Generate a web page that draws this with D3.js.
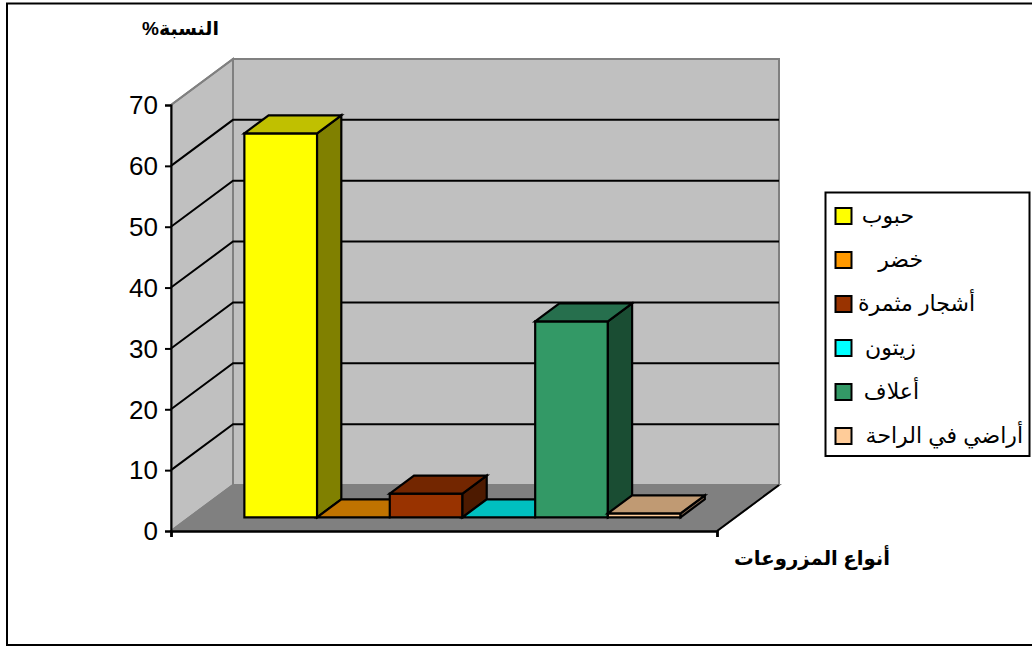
<!DOCTYPE html>
<html><head><meta charset="utf-8">
<script src="https://cdn.jsdelivr.net/npm/d3@7"></script>
<style>html,body{margin:0;padding:0;background:#fff}svg{display:block}</style>
</head><body><svg id="c" width="1032" height="646"></svg>
<script>
const categories = ["حبوب","خضر ","أشجار مثمرة","زيتون","أعلاف","أراضي في الراحة"];
const values = [63.1,0,3.9,0,32.2,0.65];
const frontColors = ["#ffff00","#ff9900","#993300","#00ffff","#339966","#ffcc99"];
const topColors = ["#c0c000","#c07300","#732600","#00c0c0","#266f4d","#c09a73"];
const sideColors = ["#808000","#804d00","#4d1a00","#008080","#1a4d33","#806650"];
const ticks = [0,10,20,30,40,50,60,70];
const legendAnchors = [914,923,975,916,919,1023];
const yTitle = "النسبة%";
const xTitle = "أنواع المزروعات";

const svg = d3.select("#c");
const fam = "'Liberation Sans','DejaVu Sans',Arial,sans-serif";
const x0=171,x1=717,y0=531,yT=105,DX=62,DY=-46;
const y = d3.scaleLinear().domain([0,70]).range([y0,yT]);
const x = d3.scaleBand().domain(categories).range([x0,x1]).paddingInner(0).paddingOuter(0.755);
const proj = (px,v,d)=>[px+DX*d, y(v)+DY*d];
const poly=(pts,fill,stroke,sw)=>svg.append("path").attr("d",d3.line()(pts)+"Z").attr("fill",fill).attr("stroke",stroke||"none").attr("stroke-width",sw||0).attr("stroke-linejoin","miter");

// outer frame (right side runs off the picture)
svg.append("rect").attr("x",7).attr("y",3.5).attr("width",1040).attr("height",641.5).attr("fill","#fff").attr("stroke","#000").attr("stroke-width",2);

// walls + floor
poly([proj(x0,70,1),proj(x1,70,1),proj(x1,0,1),proj(x0,0,1)],"#c0c0c0","#808080",2);
poly([proj(x0,0,0),proj(x0,70,0),proj(x0,70,1),proj(x0,0,1)],"#c0c0c0","#808080",2);
poly([proj(x0,0,0),proj(x0,0,1),proj(x1,0,1),proj(x1,0,0)],"#808080","#808080",2);

// gridlines
ticks.slice(1,-1).forEach(t=>{
  svg.append("path").attr("d",d3.line()([proj(x0,t,0),proj(x0,t,1),proj(x1,t,1)])).attr("fill","none").attr("stroke","#000").attr("stroke-width",2);
});
svg.append("path").attr("d",d3.line()([proj(x0,70,0),proj(x0,70,1)])).attr("fill","none").attr("stroke","#808080").attr("stroke-width",2);
svg.append("path").attr("d",d3.line()([proj(x1,0,1),proj(x1,0,0)])).attr("fill","none").attr("stroke","#000").attr("stroke-width",2);

// bars
const dA=0.298,dB=0.689;
categories.forEach((c,i)=>{
  const l=x(c),r=l+x.bandwidth(),v=values[i];
  const st="#000",sw=2.2;
  if(v>0){poly([proj(l,0,dA),proj(r,0,dA),proj(r,v,dA),proj(l,v,dA)],frontColors[i],st,sw);}
  poly([proj(r,0,dA),proj(r,0,dB),proj(r,v,dB),proj(r,v,dA)],sideColors[i],st,sw);
  poly([proj(l,v,dA),proj(r,v,dA),proj(r,v,dB),proj(l,v,dB)],topColors[i],st,sw);
});

// axes
const yAxis=d3.axisLeft(y).tickValues(ticks).tickSize(6).tickPadding(7);
const gy=svg.append("g").attr("transform",`translate(${x0},0)`).call(yAxis);
gy.selectAll("line,path").attr("stroke","#000").attr("stroke-width",2);
gy.selectAll("text").attr("font-family",fam).attr("font-size",26).attr("fill","#000").attr("dy","0.34em");
const xAxis=d3.axisBottom(d3.scaleLinear().domain([0,1]).range([x0,x1])).tickValues([0,1]).tickSize(6).tickFormat("");
const gx=svg.append("g").attr("transform",`translate(0,${y0})`).call(xAxis);
gx.selectAll("line,path").attr("stroke","#000").attr("stroke-width",2.4);

// titles
svg.append("text").attr("x",219).attr("y",35).attr("direction","rtl").attr("text-anchor","start").attr("font-family",fam).attr("font-size",19).attr("font-weight","bold").text(yTitle);
svg.append("text").attr("x",890).attr("y",565).attr("direction","rtl").attr("text-anchor","start").attr("font-family",fam).attr("font-size",19.7).attr("font-weight","bold").text(xTitle);

// legend
svg.append("rect").attr("x",825.5).attr("y",192.5).attr("width",204).attr("height",263.5).attr("fill","#fff").attr("stroke","#000").attr("stroke-width",2);
const ly=d3.scalePoint().domain(categories).range([216,436]);
categories.forEach((c,i)=>{
  svg.append("rect").attr("x",835.5).attr("y",ly(c)-8).attr("width",16).attr("height",16).attr("fill",frontColors[i]).attr("stroke","#000").attr("stroke-width",2);
  svg.append("text").attr("x",legendAnchors[i]).attr("y",ly(c)+7).attr("direction","rtl").attr("font-family",fam).attr("font-size",22).text(c);
});
</script></body></html>
